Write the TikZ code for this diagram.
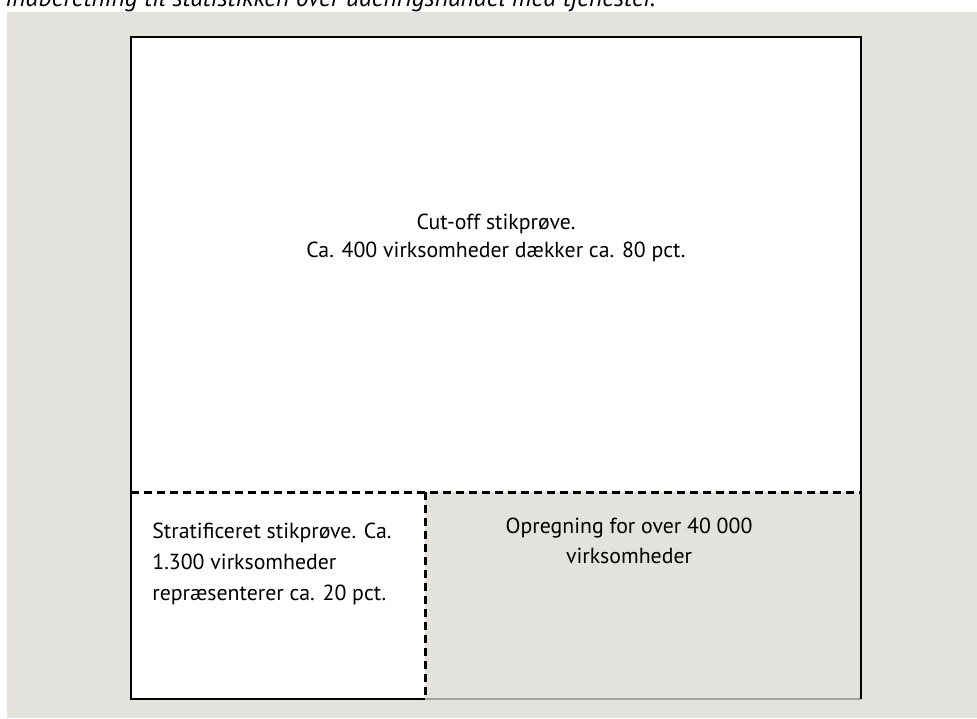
\documentclass[tikz,border=0pt]{standalone}
\usepackage{fontspec}
\setmainfont{PT Sans}
\usetikzlibrary{positioning}
\definecolor{PanelGray}{RGB}{227,226,221}
\definecolor{EdgeGray}{RGB}{165,165,160}
\tikzset{
  panel/.style={fill=white,draw=black,line width=0.9pt},
  cutline/.style={draw=black,line width=1.5pt,dash pattern=on 4pt off 2.5pt},
  boxtext/.style={font=\fontsize{10.9}{15.2}\selectfont,inner sep=0pt},
  titletext/.style={font=\fontsize{12.7}{15}\selectfont\itshape,inner sep=0pt}
}
\begin{document}
\begin{tikzpicture}[x=0.5pt,y=-0.5pt]
  \useasboundingbox (0,0) rectangle (977,718);
  \fill[PanelGray] (7,12) rectangle (977,718);
  % title, cut off by the page edge
  \node[titletext,anchor=base west] (title) at (5,6)
    {Indberetning til statistikken over udenrigshandel med tjenester.};
  % corners of the frame
  \coordinate (tl) at (131,37);
  \coordinate (tr) at (861,37);
  \coordinate (ml) at (131,492);
  \coordinate (mm) at (425,492);
  \coordinate (mr) at (861,492);
  \coordinate (bl) at (131,699);
  \coordinate (bm) at (425,699);
  \coordinate (br) at (861,699);
  % upper part: cut-off
  \fill[white] (tl) rectangle (mr);
  \draw[panel,fill=none] (ml) -- (tl) -- (tr) -- (mr);
  % lower left: stratified
  \fill[white] (ml) rectangle (bm);
  \draw[panel,fill=none] (ml) -- (bl) -- (bm);
  % lower right
  \draw[EdgeGray,line width=0.6pt] (bm) -- (br);
  \draw[panel,fill=none] (mr) -- (br);
  \draw[cutline] (ml) -- (mr);
  \draw[cutline] (mm) -- (bm);
  \node[boxtext,align=center,font=\fontsize{10.9}{14}\selectfont] (cutoff) at (496,238)
    {Cut-off stikprøve.\\Ca. 400 virksomheder dækker ca. 80 pct.};
  \node[boxtext,align=left,anchor=north west,font=\fontsize{10.9}{15.5}\selectfont] (strat) at (152,523)
    {Stratificeret stikprøve. Ca.\\1.300 virksomheder\\repræsenterer ca. 20 pct.};
  \node[boxtext,align=center] (opreg) at (629,541)
    {Opregning for over 40 000\\virksomheder};
\end{tikzpicture}
\end{document}
